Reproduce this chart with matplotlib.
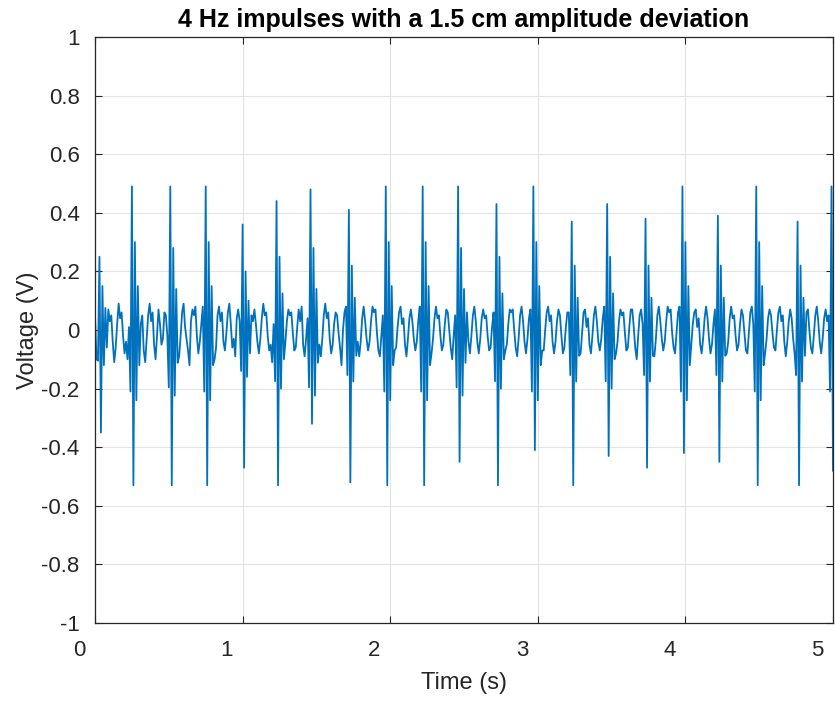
import numpy as np
import matplotlib.pyplot as plt
from matplotlib.transforms import ScaledTranslation

# sample step of the recorded trace (s)
DT = 0.01

# background ripple between the impulses, read every 10 ms
background = [
    0.05, -0.10, -0.18, 0.08, 0.02, 0.06, -0.05, -0.12, 0.00, 0.07, 0.03, 0.05, -0.04, -0.11, -0.06, 0.02, 0.09, 0.04, 0.06, -0.02, -0.08, -0.04, -0.10, 0.01, 0.07,
    0.09, 0.05, -0.02, -0.06, 0.01, 0.07, 0.02, 0.05, -0.07, -0.11, -0.03, 0.05, 0.09, 0.03, 0.06, -0.05, -0.10, -0.02, 0.07, 0.02, -0.05, -0.03, 0.06, 0.05, -0.02,
    -0.08, -0.05, 0.04, 0.10, 0.03, 0.05, -0.06, -0.09, -0.02, 0.06, 0.09, 0.01, -0.03, -0.07, -0.12, 0.03, 0.07, 0.05, 0.08, -0.02, -0.08, -0.04, 0.02, 0.08, -0.01,
    -0.04, 0.03, 0.07, 0.02, 0.04, -0.05, -0.10, -0.06, 0.05, 0.08, 0.03, 0.06, -0.04, -0.07, -0.01, 0.06, 0.09, 0.02, -0.06, -0.03, -0.09, 0.04, 0.07, 0.03, -0.04,
    0.06, 0.08, 0.01, -0.06, -0.09, -0.02, 0.05, 0.03, 0.07, 0.02, -0.04, -0.08, -0.03, 0.04, 0.09, 0.05, 0.06, -0.02, -0.07, -0.05, -0.11, 0.02, 0.06, 0.04, -0.03,
    0.08, 0.04, -0.03, -0.08, -0.04, 0.03, 0.07, 0.05, 0.06, -0.01, -0.07, -0.06, 0.01, 0.07, 0.03, 0.08, -0.05, -0.09, -0.03, 0.04, 0.08, 0.03, 0.05, -0.04, -0.07,
    0.07, 0.02, -0.05, -0.09, -0.03, 0.05, 0.09, 0.04, 0.06, -0.03, -0.08, -0.05, 0.02, 0.06, 0.05, -0.01, -0.06, -0.12, 0.00, 0.06, 0.08, 0.02, -0.05, -0.08, -0.03,
    0.08, 0.03, 0.05, -0.04, -0.09, -0.04, 0.04, 0.08, 0.03, -0.03, -0.07, -0.04, 0.03, 0.08, 0.06, 0.07, -0.01, -0.07, -0.09, -0.02, 0.05, 0.07, 0.02, -0.04, -0.08,
    0.07, 0.05, -0.02, -0.07, -0.06, 0.01, 0.06, 0.08, 0.02, 0.04, -0.05, -0.09, -0.03, 0.04, 0.07, 0.03, -0.03, -0.07, -0.04, 0.03, 0.08, 0.05, 0.06, -0.02, -0.08,
    0.06, 0.04, -0.03, -0.08, -0.03, 0.04, 0.08, 0.04, 0.05, -0.02, -0.07, -0.05, 0.02, 0.07, 0.06, 0.00, -0.06, -0.10, -0.02, 0.05, 0.08, 0.03, -0.04, -0.09, -0.04,
    0.07, 0.03, 0.06, -0.04, -0.08, -0.02, 0.05, 0.08, 0.03, -0.04, -0.08, -0.03, 0.04, 0.07, 0.04, 0.05, -0.02, -0.07, -0.06, 0.01, 0.06, 0.07, 0.01, -0.05, -0.08,
    0.08, 0.04, -0.02, -0.07, -0.05, 0.02, 0.07, 0.06, 0.07, 0.00, -0.06, -0.09, -0.03, 0.05, 0.08, 0.03, -0.04, -0.08, -0.03, 0.04, 0.07, 0.04, 0.05, -0.03, -0.07,
    0.07, 0.05, -0.01, -0.07, -0.07, 0.00, 0.06, 0.08, 0.03, 0.05, -0.04, -0.08, -0.04, 0.03, 0.07, 0.05, -0.02, -0.08, -0.06, 0.01, 0.06, 0.06, -0.01, -0.06, -0.07,
    0.06, 0.07, 0.01, -0.06, -0.08, -0.01, 0.06, 0.07, 0.01, 0.04, -0.05, -0.08, -0.02, 0.05, 0.08, 0.03, -0.04, -0.07, -0.03, 0.04, 0.08, 0.04, 0.06, -0.03, -0.08,
    0.07, 0.04, -0.03, -0.08, -0.04, 0.03, 0.07, 0.05, 0.06, -0.01, -0.07, -0.06, 0.01, 0.07, 0.07, 0.01, -0.06, -0.10, -0.02, 0.05, 0.07, 0.02, -0.04, -0.08, -0.03,
    0.08, 0.03, 0.05, -0.05, -0.09, -0.03, 0.05, 0.08, 0.03, -0.03, -0.07, -0.04, 0.03, 0.08, 0.06, 0.07, -0.01, -0.06, -0.08, -0.01, 0.06, 0.08, 0.02, -0.05, -0.09,
    0.07, 0.05, -0.02, -0.07, -0.05, 0.02, 0.06, 0.07, 0.01, 0.04, -0.05, -0.08, -0.03, 0.04, 0.08, 0.04, -0.03, -0.08, -0.05, 0.02, 0.07, 0.05, 0.06, -0.02, -0.07,
    0.08, 0.04, -0.03, -0.08, -0.04, 0.04, 0.08, 0.04, 0.05, -0.02, -0.07, -0.05, 0.02, 0.07, 0.05, -0.01, -0.07, -0.08, -0.01, 0.06, 0.08, 0.02, -0.05, -0.08, -0.03,
    0.07, 0.03, 0.05, -0.04, -0.08, -0.03, 0.04, 0.07, 0.05, -0.01, -0.06, -0.07, 0.00, 0.06, 0.08, 0.03, 0.05, -0.04, -0.09, -0.04, 0.03, 0.07, 0.04, -0.03, -0.08,
    0.08, 0.04, -0.02, -0.07, -0.05, 0.02, 0.07, 0.06, 0.07, 0.00, -0.06, -0.08, -0.02, 0.05, 0.08, 0.03, -0.04, -0.08, -0.03, 0.04, 0.07, 0.03, 0.05, -0.04, -0.08,
    0.06,
]

# impulses: time (s), top of the spike, bottom of the spike, ringing after it
spike_t = [0.03, 0.25, 0.51, 0.75, 1.00, 1.23, 1.46, 1.72, 1.97, 2.22, 2.46,
           2.72, 2.97, 3.23, 3.47, 3.73, 3.98, 4.22, 4.48, 4.76, 4.99]
spike_hi = [0.25, 0.49, 0.49, 0.49, 0.36, 0.44, 0.48, 0.41, 0.49, 0.49, 0.49,
            0.43, 0.49, 0.37, 0.43, 0.38, 0.49, 0.39, 0.49, 0.37, 0.49]
spike_lo = [-0.35, -0.53, -0.53, -0.53, -0.47, -0.53, -0.32, -0.52, -0.53, -0.53, -0.45,
            -0.53, -0.41, -0.53, -0.43, -0.47, -0.42, -0.45, -0.53, -0.53, -0.48]
spike_ring = [0.15, 0.30, 0.28, 0.30, 0.20, 0.25, 0.28, 0.22, 0.30, 0.30, 0.28,
              0.25, 0.30, 0.22, 0.25, 0.22, 0.30, 0.22, 0.30, 0.22, 0.30]

v = np.array(background, dtype=float)
t = np.arange(len(v)) * DT
for ts, hi, lo, ring in zip(spike_t, spike_hi, spike_lo, spike_ring):
    k = int(round(ts / DT))
    burst = [(-1, -ring * 0.7), (0, hi), (1, lo), (2, ring), (3, -ring * 0.8),
             (4, ring * 0.5), (5, -ring * 0.4)]
    for d, val in burst:
        if 0 <= k + d < len(v):
            v[k + d] = val

plt.rcParams['font.family'] = ['Liberation Sans', 'DejaVu Sans']
fig = plt.figure(figsize=(8.35, 7.03), dpi=100)
ax = fig.add_axes([0.1138, 0.1138, 0.8838, 0.8336])
ax.plot(t, v, color='#0072BD', lw=1.3)

ax.set_xlim(0, 5)
ax.set_ylim(-1, 1)
ax.set_xticks([0, 1, 2, 3, 4, 5])
ax.set_yticks(np.arange(-1, 1.01, 0.2))
ax.set_yticklabels(['-1', '-0.8', '-0.6', '-0.4', '-0.2', '0', '0.2', '0.4', '0.6', '0.8', '1'])
ax.grid(True, color='#e3e3e3', lw=0.8)
ax.set_axisbelow(True)
ax.tick_params(direction='in', length=5, width=0.8, colors='#262626', labelsize=16,
               top=True, right=True)
ax.tick_params(axis='x', pad=12)
ax.tick_params(axis='y', pad=11)
for s in ax.spines.values():
    s.set_color('#262626')
    s.set_linewidth(0.9)

# x tick labels sit a bit left of their ticks in the original
off = ScaledTranslation(-16 / 100, 0, fig.dpi_scale_trans)
for lab in ax.get_xticklabels():
    lab.set_transform(lab.get_transform() + off)

ax.set_xlabel('Time (s)', fontsize=17, color='#262626', labelpad=8)
ax.set_ylabel('Voltage (V)', fontsize=17, color='#262626', labelpad=2)
ax.set_title('4 Hz impulses with a 1.5 cm amplitude deviation', fontsize=18,
             fontweight='bold', pad=7)

fig.savefig('out.png', dpi=100)
